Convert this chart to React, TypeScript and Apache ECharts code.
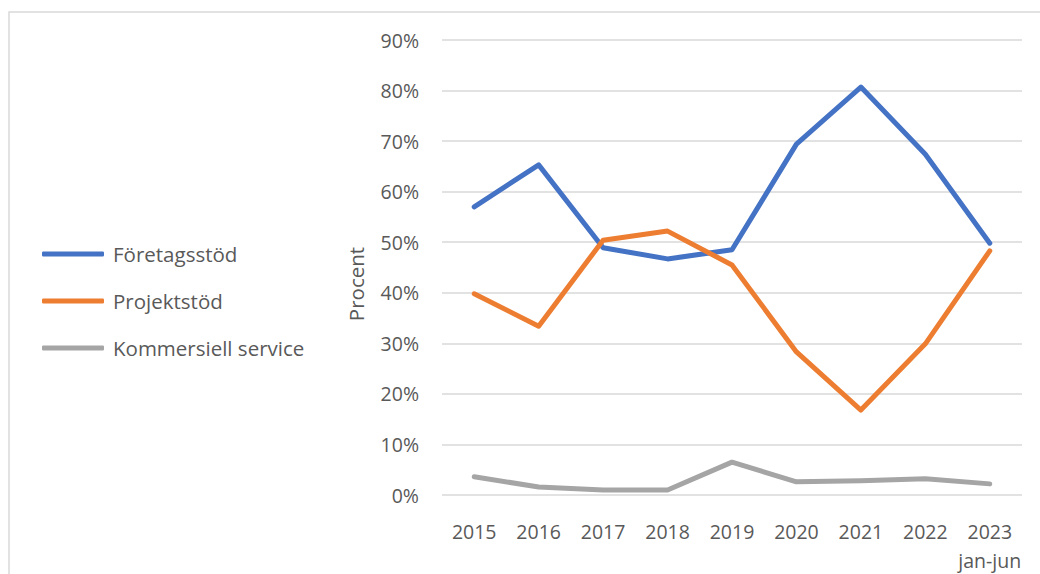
import React, { useEffect, useRef } from "react";
import * as echarts from "echarts";

const categories = ["2015", "2016", "2017", "2018", "2019", "2020", "2021", "2022", "2023\njan-jun"];
const foretagsstod = [57.0, 65.3, 48.9, 46.7, 48.5, 69.4, 80.7, 67.4, 49.8];
const projektstod = [39.8, 33.4, 50.4, 52.2, 45.5, 28.3, 16.8, 29.9, 48.3];
const kommersiell = [3.6, 1.6, 1.0, 1.0, 6.5, 2.6, 2.8, 3.2, 2.2];
const seriesNames = ["Företagsstöd", "Projektstöd", "Kommersiell service"];
const colors = ["#4472C4", "#ED7D31", "#A5A5A5"];

const FONT = "Open Sans";
const TEXT = "#595959";

export default function App() {
  const ref = useRef<HTMLDivElement>(null);
  useEffect(() => {
    if (!ref.current) return;
    const chart = echarts.init(ref.current, undefined, { renderer: "svg" });
    const dataSets = [foretagsstod, projektstod, kommersiell];
    chart.setOption({
      animation: false,
      backgroundColor: "#ffffff",
      textStyle: { fontFamily: FONT },
      grid: { left: 442, right: 18, top: 40, bottom: 79, containLabel: false, outerBoundsMode: "none" },
      legend: {
        orient: "vertical",
        left: 42,
        top: 243,
        padding: 0,
        icon: "roundRect",
        itemWidth: 62,
        itemHeight: 5,
        itemGap: 25,
        data: seriesNames,
        textStyle: { fontFamily: FONT, fontSize: 20.5, color: TEXT, lineHeight: 22, padding: [0, 0, 0, 4] },
      },
      xAxis: {
        type: "category",
        data: categories,
        boundaryGap: true,
        axisLine: { show: false },
        axisTick: { show: false },
        axisLabel: {
          interval: 0,
          fontFamily: FONT,
          fontSize: 19.5,
          color: TEXT,
          margin: 22,
          lineHeight: 29,
        },
      },
      yAxis: {
        type: "value",
        min: 0,
        max: 90,
        interval: 10,
        axisLine: { show: false },
        axisTick: { show: false },
        splitLine: { lineStyle: { color: "#D9D9D9", width: 1.5 } },
        axisLabel: {
          formatter: "{value}%",
          fontFamily: FONT,
          fontSize: 19.5,
          color: TEXT,
          margin: 23,
        },
      },
      graphic: [
        {
          type: "rect",
          shape: { x: 9, y: 12, width: 1100, height: 700 },
          style: { fill: "none", stroke: "#D9D9D9", lineWidth: 1.5 },
          silent: true,
        },
        {
          type: "text",
          x: 356,
          y: 284,
          rotation: Math.PI / 2,
          style: {
            text: "Procent",
            fontFamily: FONT,
            fontSize: 20.5,
            fill: TEXT,
            align: "center",
            verticalAlign: "middle",
          },
        },
      ],
      series: dataSets.map((d, i) => ({
        name: seriesNames[i],
        type: "line",
        data: d,
        symbol: "none",
        smooth: false,
        color: colors[i],
        lineStyle: { width: 5, color: colors[i], cap: "round", join: "round" },
      })),
    });
    return () => chart.dispose();
  }, []);
  return (
    <div
      ref={ref}
      style={{ position: "fixed", left: 0, top: 0, width: 1040, height: 574 }}
    />
  );
}
